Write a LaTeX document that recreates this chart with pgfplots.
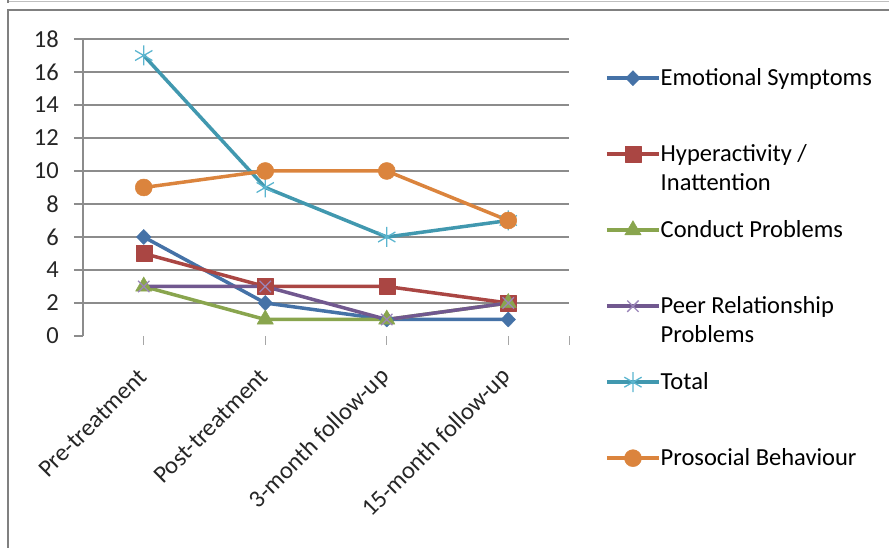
\documentclass[border=0pt]{standalone}
\usepackage{fontspec}
\setmainfont{Carlito}
\usepackage{pgfplots}
\pgfplotsset{compat=1.18}
\definecolor{cBlue}{HTML}{4572A7}
\definecolor{cRed}{HTML}{AA4643}
\definecolor{cGreen}{HTML}{89A54E}
\definecolor{cPurple}{HTML}{71588F}
\definecolor{cPurpleL}{HTML}{9B86B9}
\definecolor{cAqua}{HTML}{4198AF}
\definecolor{cAquaL}{HTML}{5BB5CF}
\definecolor{cOrange}{HTML}{DB843D}
\newcommand{\lentry}[1]{\parbox[t]{220pt}{\raggedright #1}}
\newcommand{\chartfont}{\fontsize{24.5}{29.5}\selectfont}
\begin{document}
\begin{tikzpicture}
\draw[color=black!25, line width=1pt] (8pt,546pt) -- (889pt,546pt);
\draw[color=black!50, line width=2.5pt] (8pt,548pt) -- (8pt,545pt);
\draw[color=black!50, line width=2.5pt] (8pt,0pt) -- (8pt,538pt) -- (889pt,538pt);
\begin{axis}[
  at={(83pt,212pt)}, anchor=south west,
  scale only axis, width=486pt, height=297pt,
  xmin=-0.5, xmax=3.5, ymin=0, ymax=18,
  xtick={0,1,2,3},
  xticklabels={Pre-treatment, Post-treatment, 3-month follow-up, 15-month follow-up},
  extra x ticks={3.5}, extra x tick labels={},
  ytick={0,2,...,18},
  extra y ticks={2,4,...,18}, extra y tick labels={},
  extra y tick style={grid=major, major tick length=0pt},
  grid style={color=black!45, line width=1.2pt},
  axis y line*=left, axis x line*=bottom,
  x axis line style={draw=none},
  y axis line style={color=black!45, line width=1.5pt},
  tick align=outside,
  major tick length=9pt,
  xtick style={color=black!35, line width=1pt},
  ytick style={color=black!45, line width=1.2pt},
  /pgf/number format/assume math mode=true,
  tick label style={font=\chartfont, color=black!85},
  yticklabel style={anchor=east, inner sep=0pt, xshift=-15pt},
  xticklabel style={yshift=-28pt, xshift=-1pt, rotate=45, anchor=east, inner sep=0pt},
  clip=false,
  legend style={at={(1.0741,0.9125)}, anchor=north west, draw=none, fill=none,
    row sep=0pt, inner sep=0pt, font=\chartfont,
    nodes={inner sep=0pt, text height=20pt, text depth=56pt},
    /tikz/every even column/.style={column sep=5pt}},
  legend cell align=left,
  legend image code/.code={%
    \draw[mark repeat=2,mark phase=2,#1] plot coordinates {(0pt,25pt) (26pt,25pt) (52pt,25pt)};},
  every axis plot/.append style={line width=3.5pt, line join=round},
]
\addplot[color=cBlue, mark=diamond*, mark size=7.5pt, mark options={solid, line width=0.5pt, xscale=1.3}]
  coordinates {(0,6) (1,2) (2,1) (3,1)};
\addlegendentry{\lentry{Emotional Symptoms}}
\addplot[color=cRed, mark=square*, mark size=8pt, mark options={solid, line width=0.5pt}]
  coordinates {(0,5) (1,3) (2,3) (3,2)};
\addlegendentry{\lentry{Hyperactivity /\\Inattention}}
\addplot[color=cGreen, mark=triangle*, mark size=9.5pt, mark options={solid, line width=0.5pt}]
  coordinates {(0,3) (1,1) (2,1) (3,2)};
\addlegendentry{\lentry{Conduct Problems}}
\addplot[color=cPurple, mark=x, mark size=8pt, mark options={solid, line width=1.3pt, color=cPurpleL}]
  coordinates {(0,3) (1,3) (2,1) (3,2)};
\addlegendentry{\lentry{Peer Relationship\\Problems}}
\addplot[color=cAqua, mark=asterisk, mark size=10pt, mark options={solid, line width=1.3pt, color=cAquaL}]
  coordinates {(0,17) (1,9) (2,6) (3,7)};
\addlegendentry{\lentry{Total}}
\addplot[color=cOrange, mark=*, mark size=8.5pt, mark options={solid, line width=0.5pt}]
  coordinates {(0,9) (1,10) (2,10) (3,7)};
\addlegendentry{\lentry{Prosocial Behaviour}}
\end{axis}
\pgfresetboundingbox
\path[use as bounding box] (0pt,0pt) rectangle (889pt,548pt);
\end{tikzpicture}
\end{document}
